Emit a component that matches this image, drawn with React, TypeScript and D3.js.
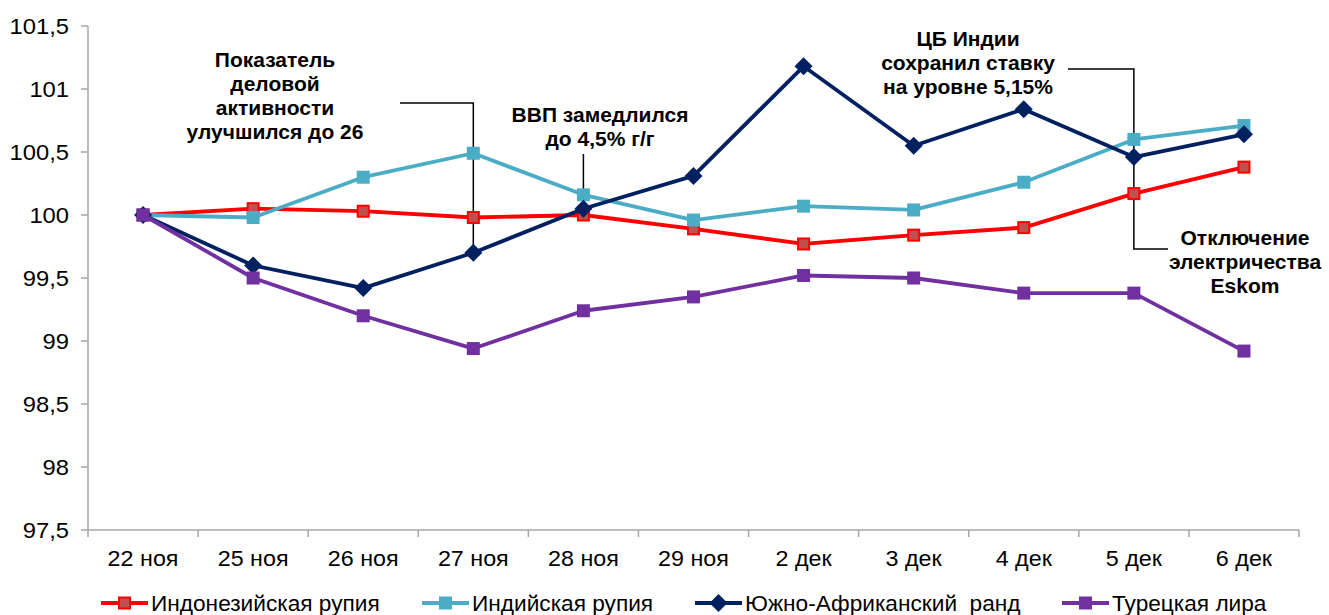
import React from "react";
import * as d3 from "d3";

const categories = ["22 ноя", "25 ноя", "26 ноя", "27 ноя", "28 ноя", "29 ноя", "2 дек", "3 дек", "4 дек", "5 дек", "6 дек"];
const indonesia = [100, 100.05, 100.03, 99.98, 100.0, 99.89, 99.77, 99.84, 99.9, 100.17, 100.38];
const india = [100, 99.98, 100.3, 100.49, 100.16, 99.96, 100.07, 100.04, 100.26, 100.6, 100.71];
const southAfrica = [100, 99.6, 99.42, 99.7, 100.05, 100.31, 101.18, 100.55, 100.84, 100.46, 100.64];
const turkey = [100, 99.5, 99.2, 98.94, 99.24, 99.35, 99.52, 99.5, 99.38, 99.38, 98.92];
const yTicks = [97.5, 98, 98.5, 99, 99.5, 100, 100.5, 101, 101.5];
const seriesNames = ["Индонезийская рупия", "Индийская рупия", "Южно-Африканский  ранд", "Турецкая лира"];

const W = 1329, H = 615;
const left = 88, right = 1299, top = 26, bottom = 530;
const FONT = "Liberation Sans, Arial, sans-serif";

const x = d3.scaleBand<string>().domain(categories).range([left, right]).padding(0);
const y = d3.scaleLinear().domain([97.5, 101.5]).range([bottom, top]);
const cx = (c: string) => (x(c) as number) + x.bandwidth() / 2;
const fmt = (v: number) => String(v).replace(".", ",");

type S = { name: string; values: number[]; color: string; marker: "square" | "diamond"; fill: string; stroke?: string };
const series: S[] = [
  { name: seriesNames[0], values: indonesia, color: "#FF0000", marker: "square", fill: "#C0504D", stroke: "#FF0000" },
  { name: seriesNames[1], values: india, color: "#4BACC6", marker: "square", fill: "#4BACC6" },
  { name: seriesNames[2], values: southAfrica, color: "#002060", marker: "diamond", fill: "#002060" },
  { name: seriesNames[3], values: turkey, color: "#7030A0", marker: "square", fill: "#7030A0" },
];

function T({ x: tx, y: ty, anchor = "start", size = 22, sx = 1.06, bold = false, children }: any) {
  return (
    <g transform={`translate(${tx},${ty}) scale(${sx},1)`}>
      <text x={0} y={0} dy="0.35em" textAnchor={anchor} fontFamily={FONT} fontSize={size}
        fontWeight={bold ? "bold" : "normal"} fill="#000" style={{ whiteSpace: "pre" }}>{children}</text>
    </g>
  );
}

function Marker({ s, px, py }: { s: S; px: number; py: number }) {
  if (s.marker === "diamond") {
    const r = 9;
    return <path d={`M${px},${py - r}L${px + r},${py}L${px},${py + r}L${px - r},${py}Z`} fill={s.fill} />;
  }
  const a = s.stroke ? 11 : 13;
  return (
    <rect x={px - a / 2} y={py - a / 2} width={a} height={a} fill={s.fill}
      stroke={s.stroke || "none"} strokeWidth={s.stroke ? 2 : 0} />
  );
}

function Anno({ lines, cxp, y0 }: { lines: string[]; cxp: number; y0: number }) {
  return (
    <g>
      {lines.map((l, i) => (
        <T key={i} x={cxp} y={y0 + i * 24} anchor="middle" size={20} sx={1.05} bold>{l}</T>
      ))}
    </g>
  );
}

export default function App() {
  const line = d3.line<number>().x((_, i) => cx(categories[i])).y((v) => y(v));
  const legendX = [101, 422, 695, 1062];
  const legendY = 603;
  const p27 = [cx("27 ноя"), y(southAfrica[3])];
  const p28 = [cx("28 ноя"), y(india[4])];
  const p5 = [cx("5 дек"), y(southAfrica[9])];
  return (
    <svg width={W} height={H} style={{ position: "absolute", left: 0, top: 0, background: "#fff" }}>
      <rect width={W} height={H} fill="#fff" />
      {/* axes */}
      <line x1={left} x2={left} y1={top} y2={bottom} stroke="#A6A6A6" strokeWidth={1.5} />
      <line x1={left} x2={right} y1={bottom} y2={bottom} stroke="#A6A6A6" strokeWidth={1.5} />
      {yTicks.map((t) => (
        <g key={t}>
          <line x1={left - 7} x2={left} y1={y(t)} y2={y(t)} stroke="#A6A6A6" strokeWidth={1.5} />
          <T x={left - 19} y={y(t)} anchor="end" sx={1.08}>{fmt(t)}</T>
        </g>
      ))}
      {categories.map((c) => (
        <line key={"t" + c} x1={x(c) as number} x2={x(c) as number} y1={bottom} y2={bottom + 7} stroke="#A6A6A6" strokeWidth={1.5} />
      ))}
      <line x1={right} x2={right} y1={bottom} y2={bottom + 7} stroke="#A6A6A6" strokeWidth={1.5} />
      {categories.map((c) => (
        <T key={"l" + c} x={cx(c)} y={558} anchor="middle">{c}</T>
      ))}

      {/* callout lines */}
      <path d={`M400,103H${p27[0]}V${p27[1]}`} fill="none" stroke="#000" strokeWidth={1.5} />
      <path d={`M${p28[0]},154V${p28[1] + 8}`} fill="none" stroke="#000" strokeWidth={1.5} />
      <path d={`M1068,69H${p5[0]}V${p5[1]}`} fill="none" stroke="#000" strokeWidth={1.5} />
      <path d={`M${p5[0]},${p5[1]}V249H1168`} fill="none" stroke="#000" strokeWidth={1.5} />

      {/* series */}
      {series.map((s) => (
        <g key={s.name}>
          <path d={line(s.values) || ""} fill="none" stroke={s.color} strokeWidth={3.8} strokeLinejoin="round" />
          {s.values.map((v, i) => (
            <Marker key={i} s={s} px={cx(categories[i])} py={y(v)} />
          ))}
        </g>
      ))}

      {/* annotations */}
      <Anno lines={["Показатель", "деловой", "активности", "улучшился до 26"]} cxp={275} y0={60} />
      <Anno lines={["ВВП замедлился", "до 4,5% г/г"]} cxp={600} y0={115} />
      <Anno lines={["ЦБ Индии", "сохранил ставку", "на уровне 5,15%"]} cxp={968} y0={39} />
      <Anno lines={["Отключение", "электричества", "Eskom"]} cxp={1245} y0={238} />

      {/* legend */}
      {series.map((s, i) => (
        <g key={"lg" + i}>
          <line x1={legendX[i]} x2={legendX[i] + 47} y1={legendY} y2={legendY} stroke={s.color} strokeWidth={3.8} />
          <Marker s={s} px={legendX[i] + 23.5} py={legendY} />
          <T x={legendX[i] + 50} y={legendY} sx={1.03}>{s.name}</T>
        </g>
      ))}
    </svg>
  );
}
